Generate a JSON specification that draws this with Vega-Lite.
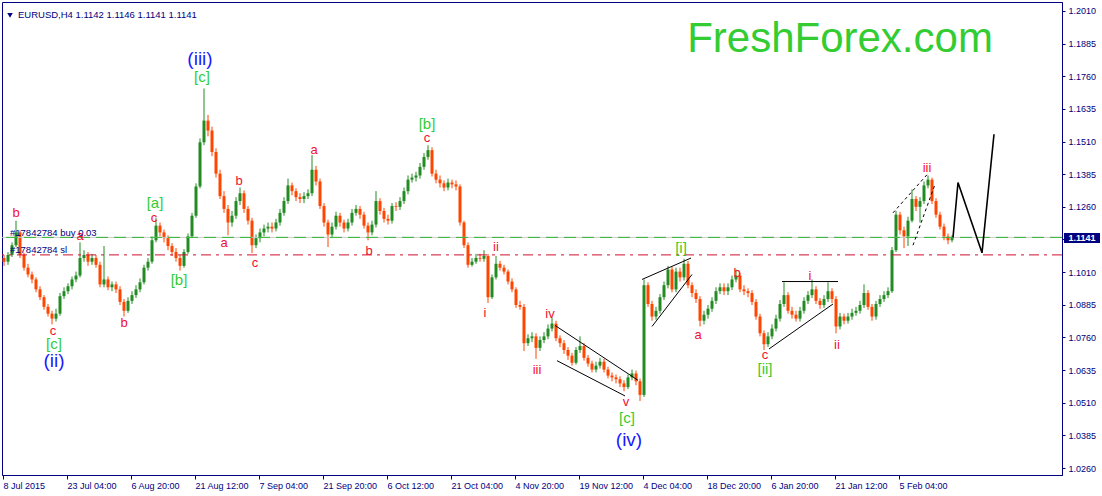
{
"$schema":"https://vega.github.io/schema/vega-lite/v6.json",
"width":1060,"height":473,"autosize":"none",
"padding":{"left":2,"top":2,"right":40,"bottom":21},
"background":"white",
"config":{"view":{"stroke":"#000080","strokeWidth":1},"text":{"font":"Liberation Sans"},"axis":{"labelFont":"Liberation Sans","labelOverlap":false,"labelFlush":false}},
"resolve":{"axis":{"x":"independent","y":"independent"}},
"datasets":{
"bars":[
{"x":4,"o":1.1064,"h":1.1076,"l":1.1034,"c":1.1050},
{"x":8,"o":1.1050,"h":1.1087,"l":1.1038,"c":1.1076},
{"x":12,"o":1.1076,"h":1.1124,"l":1.1068,"c":1.1113},
{"x":16,"o":1.1113,"h":1.1207,"l":1.1106,"c":1.1162},
{"x":20,"o":1.1162,"h":1.1170,"l":1.1064,"c":1.1076},
{"x":24,"o":1.1076,"h":1.1083,"l":1.1016,"c":1.1027},
{"x":28,"o":1.1027,"h":1.1042,"l":1.0990,"c":1.1001},
{"x":32,"o":1.1001,"h":1.1012,"l":1.0967,"c":1.0982},
{"x":36,"o":1.0982,"h":1.0990,"l":1.0933,"c":1.0944},
{"x":40,"o":1.0944,"h":1.0956,"l":1.0903,"c":1.0914},
{"x":44,"o":1.0914,"h":1.0922,"l":1.0866,"c":1.0877},
{"x":48,"o":1.0877,"h":1.0888,"l":1.0840,"c":1.0851},
{"x":52,"o":1.0851,"h":1.0862,"l":1.0810,"c":1.0832},
{"x":56,"o":1.0832,"h":1.0870,"l":1.0821,"c":1.0851},
{"x":60,"o":1.0851,"h":1.0930,"l":1.0843,"c":1.0918},
{"x":64,"o":1.0918,"h":1.0952,"l":1.0907,"c":1.0937},
{"x":68,"o":1.0937,"h":1.0967,"l":1.0926,"c":1.0956},
{"x":72,"o":1.0956,"h":1.0993,"l":1.0944,"c":1.0982},
{"x":76,"o":1.0982,"h":1.1012,"l":1.0971,"c":1.0997},
{"x":80,"o":1.0997,"h":1.1124,"l":1.0990,"c":1.1064},
{"x":84,"o":1.1064,"h":1.1094,"l":1.1050,"c":1.1076},
{"x":88,"o":1.1076,"h":1.1087,"l":1.1034,"c":1.1050},
{"x":92,"o":1.1050,"h":1.1080,"l":1.1038,"c":1.1064},
{"x":96,"o":1.1064,"h":1.1076,"l":1.1027,"c":1.1038},
{"x":100,"o":1.1038,"h":1.1050,"l":1.0952,"c":1.0963},
{"x":104,"o":1.0963,"h":1.1110,"l":1.0952,"c":1.0982},
{"x":108,"o":1.0982,"h":1.0993,"l":1.0941,"c":1.0952},
{"x":112,"o":1.0952,"h":1.0974,"l":1.0937,"c":1.0963},
{"x":116,"o":1.0963,"h":1.0974,"l":1.0930,"c":1.0944},
{"x":120,"o":1.0944,"h":1.0956,"l":1.0884,"c":1.0896},
{"x":124,"o":1.0896,"h":1.0907,"l":1.0840,"c":1.0862},
{"x":128,"o":1.0862,"h":1.0914,"l":1.0854,"c":1.0900},
{"x":132,"o":1.0900,"h":1.0937,"l":1.0888,"c":1.0922},
{"x":136,"o":1.0922,"h":1.0960,"l":1.0911,"c":1.0944},
{"x":140,"o":1.0944,"h":1.0986,"l":1.0933,"c":1.0971},
{"x":144,"o":1.0971,"h":1.1038,"l":1.0963,"c":1.1027},
{"x":148,"o":1.1027,"h":1.1064,"l":1.1016,"c":1.1050},
{"x":152,"o":1.1050,"h":1.1147,"l":1.1042,"c":1.1132},
{"x":156,"o":1.1132,"h":1.1218,"l":1.1124,"c":1.1188},
{"x":160,"o":1.1188,"h":1.1200,"l":1.1147,"c":1.1162},
{"x":164,"o":1.1162,"h":1.1173,"l":1.1124,"c":1.1140},
{"x":168,"o":1.1140,"h":1.1151,"l":1.1094,"c":1.1110},
{"x":172,"o":1.1110,"h":1.1121,"l":1.1072,"c":1.1087},
{"x":176,"o":1.1087,"h":1.1102,"l":1.1050,"c":1.1064},
{"x":180,"o":1.1064,"h":1.1076,"l":1.1016,"c":1.1034},
{"x":184,"o":1.1034,"h":1.1098,"l":1.1027,"c":1.1087},
{"x":188,"o":1.1087,"h":1.1158,"l":1.1080,"c":1.1147},
{"x":192,"o":1.1147,"h":1.1237,"l":1.1140,"c":1.1226},
{"x":196,"o":1.1226,"h":1.1350,"l":1.1218,"c":1.1338},
{"x":200,"o":1.1338,"h":1.1522,"l":1.1331,"c":1.1507},
{"x":204,"o":1.1507,"h":1.1713,"l":1.1496,"c":1.1590},
{"x":208,"o":1.1590,"h":1.1612,"l":1.1530,"c":1.1552},
{"x":212,"o":1.1552,"h":1.1567,"l":1.1454,"c":1.1470},
{"x":216,"o":1.1470,"h":1.1484,"l":1.1372,"c":1.1387},
{"x":220,"o":1.1387,"h":1.1402,"l":1.1290,"c":1.1301},
{"x":224,"o":1.1301,"h":1.1320,"l":1.1237,"c":1.1252},
{"x":228,"o":1.1252,"h":1.1267,"l":1.1151,"c":1.1200},
{"x":232,"o":1.1200,"h":1.1244,"l":1.1184,"c":1.1226},
{"x":236,"o":1.1226,"h":1.1297,"l":1.1214,"c":1.1282},
{"x":240,"o":1.1282,"h":1.1334,"l":1.1267,"c":1.1312},
{"x":244,"o":1.1312,"h":1.1323,"l":1.1237,"c":1.1252},
{"x":248,"o":1.1252,"h":1.1263,"l":1.1192,"c":1.1207},
{"x":252,"o":1.1207,"h":1.1218,"l":1.1083,"c":1.1113},
{"x":256,"o":1.1113,"h":1.1154,"l":1.1102,"c":1.1140},
{"x":260,"o":1.1140,"h":1.1177,"l":1.1124,"c":1.1162},
{"x":264,"o":1.1162,"h":1.1192,"l":1.1147,"c":1.1177},
{"x":268,"o":1.1177,"h":1.1200,"l":1.1162,"c":1.1184},
{"x":272,"o":1.1184,"h":1.1200,"l":1.1162,"c":1.1177},
{"x":276,"o":1.1177,"h":1.1214,"l":1.1166,"c":1.1200},
{"x":280,"o":1.1200,"h":1.1252,"l":1.1188,"c":1.1237},
{"x":284,"o":1.1237,"h":1.1297,"l":1.1226,"c":1.1282},
{"x":288,"o":1.1282,"h":1.1368,"l":1.1271,"c":1.1342},
{"x":292,"o":1.1342,"h":1.1353,"l":1.1304,"c":1.1320},
{"x":296,"o":1.1320,"h":1.1331,"l":1.1282,"c":1.1297},
{"x":300,"o":1.1297,"h":1.1312,"l":1.1274,"c":1.1290},
{"x":304,"o":1.1290,"h":1.1316,"l":1.1274,"c":1.1301},
{"x":308,"o":1.1301,"h":1.1327,"l":1.1290,"c":1.1312},
{"x":312,"o":1.1312,"h":1.1458,"l":1.1301,"c":1.1402},
{"x":316,"o":1.1402,"h":1.1417,"l":1.1342,"c":1.1357},
{"x":320,"o":1.1357,"h":1.1368,"l":1.1252,"c":1.1263},
{"x":324,"o":1.1263,"h":1.1274,"l":1.1184,"c":1.1200},
{"x":328,"o":1.1200,"h":1.1211,"l":1.1106,"c":1.1154},
{"x":332,"o":1.1154,"h":1.1200,"l":1.1140,"c":1.1184},
{"x":336,"o":1.1184,"h":1.1241,"l":1.1173,"c":1.1226},
{"x":340,"o":1.1226,"h":1.1237,"l":1.1184,"c":1.1200},
{"x":344,"o":1.1200,"h":1.1211,"l":1.1162,"c":1.1177},
{"x":348,"o":1.1177,"h":1.1214,"l":1.1166,"c":1.1200},
{"x":352,"o":1.1200,"h":1.1252,"l":1.1188,"c":1.1237},
{"x":356,"o":1.1237,"h":1.1267,"l":1.1226,"c":1.1252},
{"x":360,"o":1.1252,"h":1.1263,"l":1.1214,"c":1.1230},
{"x":364,"o":1.1230,"h":1.1241,"l":1.1177,"c":1.1188},
{"x":368,"o":1.1188,"h":1.1200,"l":1.1132,"c":1.1162},
{"x":372,"o":1.1162,"h":1.1207,"l":1.1151,"c":1.1192},
{"x":376,"o":1.1192,"h":1.1320,"l":1.1181,"c":1.1282},
{"x":380,"o":1.1282,"h":1.1293,"l":1.1230,"c":1.1244},
{"x":384,"o":1.1244,"h":1.1256,"l":1.1200,"c":1.1214},
{"x":388,"o":1.1214,"h":1.1230,"l":1.1192,"c":1.1207},
{"x":392,"o":1.1207,"h":1.1274,"l":1.1196,"c":1.1263},
{"x":396,"o":1.1263,"h":1.1278,"l":1.1244,"c":1.1260},
{"x":400,"o":1.1260,"h":1.1297,"l":1.1248,"c":1.1282},
{"x":404,"o":1.1282,"h":1.1334,"l":1.1271,"c":1.1320},
{"x":408,"o":1.1320,"h":1.1380,"l":1.1308,"c":1.1364},
{"x":412,"o":1.1364,"h":1.1387,"l":1.1353,"c":1.1372},
{"x":416,"o":1.1372,"h":1.1394,"l":1.1357,"c":1.1380},
{"x":420,"o":1.1380,"h":1.1428,"l":1.1368,"c":1.1413},
{"x":424,"o":1.1413,"h":1.1466,"l":1.1402,"c":1.1451},
{"x":428,"o":1.1451,"h":1.1496,"l":1.1440,"c":1.1477},
{"x":432,"o":1.1477,"h":1.1488,"l":1.1376,"c":1.1387},
{"x":436,"o":1.1387,"h":1.1402,"l":1.1350,"c":1.1364},
{"x":440,"o":1.1364,"h":1.1380,"l":1.1334,"c":1.1350},
{"x":444,"o":1.1350,"h":1.1361,"l":1.1320,"c":1.1334},
{"x":448,"o":1.1334,"h":1.1368,"l":1.1323,"c":1.1353},
{"x":452,"o":1.1353,"h":1.1364,"l":1.1331,"c":1.1346},
{"x":456,"o":1.1346,"h":1.1361,"l":1.1323,"c":1.1338},
{"x":460,"o":1.1338,"h":1.1346,"l":1.1188,"c":1.1200},
{"x":464,"o":1.1200,"h":1.1207,"l":1.1102,"c":1.1113},
{"x":468,"o":1.1113,"h":1.1124,"l":1.1027,"c":1.1038},
{"x":472,"o":1.1038,"h":1.1064,"l":1.1031,"c":1.1050},
{"x":476,"o":1.1050,"h":1.1080,"l":1.1042,"c":1.1064},
{"x":480,"o":1.1064,"h":1.1080,"l":1.1050,"c":1.1061},
{"x":484,"o":1.1061,"h":1.1094,"l":1.1050,"c":1.1072},
{"x":488,"o":1.1072,"h":1.1080,"l":1.0892,"c":1.0914},
{"x":492,"o":1.0914,"h":1.1001,"l":1.0907,"c":1.0990},
{"x":496,"o":1.0990,"h":1.1072,"l":1.0982,"c":1.1042},
{"x":500,"o":1.1042,"h":1.1053,"l":1.1016,"c":1.1027},
{"x":504,"o":1.1027,"h":1.1038,"l":1.1001,"c":1.1012},
{"x":508,"o":1.1012,"h":1.1020,"l":1.0963,"c":1.0974},
{"x":512,"o":1.0974,"h":1.0986,"l":1.0933,"c":1.0944},
{"x":516,"o":1.0944,"h":1.0952,"l":1.0873,"c":1.0884},
{"x":520,"o":1.0884,"h":1.0900,"l":1.0866,"c":1.0877},
{"x":524,"o":1.0877,"h":1.0888,"l":1.0708,"c":1.0738},
{"x":528,"o":1.0738,"h":1.0772,"l":1.0727,"c":1.0757},
{"x":532,"o":1.0757,"h":1.0780,"l":1.0742,"c":1.0764},
{"x":536,"o":1.0764,"h":1.0776,"l":1.0678,"c":1.0720},
{"x":540,"o":1.0720,"h":1.0764,"l":1.0708,"c":1.0750},
{"x":544,"o":1.0750,"h":1.0780,"l":1.0738,"c":1.0764},
{"x":548,"o":1.0764,"h":1.0810,"l":1.0753,"c":1.0794},
{"x":552,"o":1.0794,"h":1.0836,"l":1.0783,"c":1.0813},
{"x":556,"o":1.0813,"h":1.0824,"l":1.0746,"c":1.0757},
{"x":560,"o":1.0757,"h":1.0768,"l":1.0723,"c":1.0738},
{"x":564,"o":1.0738,"h":1.0750,"l":1.0697,"c":1.0712},
{"x":568,"o":1.0712,"h":1.0723,"l":1.0674,"c":1.0690},
{"x":572,"o":1.0690,"h":1.0701,"l":1.0652,"c":1.0663},
{"x":576,"o":1.0663,"h":1.0723,"l":1.0656,"c":1.0712},
{"x":580,"o":1.0712,"h":1.0764,"l":1.0701,"c":1.0727},
{"x":584,"o":1.0727,"h":1.0738,"l":1.0671,"c":1.0682},
{"x":588,"o":1.0682,"h":1.0693,"l":1.0648,"c":1.0660},
{"x":592,"o":1.0660,"h":1.0671,"l":1.0626,"c":1.0637},
{"x":596,"o":1.0637,"h":1.0667,"l":1.0626,"c":1.0652},
{"x":600,"o":1.0652,"h":1.0682,"l":1.0641,"c":1.0667},
{"x":604,"o":1.0667,"h":1.0678,"l":1.0626,"c":1.0637},
{"x":608,"o":1.0637,"h":1.0648,"l":1.0603,"c":1.0614},
{"x":612,"o":1.0614,"h":1.0626,"l":1.0592,"c":1.0607},
{"x":616,"o":1.0607,"h":1.0618,"l":1.0584,"c":1.0600},
{"x":620,"o":1.0600,"h":1.0611,"l":1.0570,"c":1.0584},
{"x":624,"o":1.0584,"h":1.0596,"l":1.0554,"c":1.0570},
{"x":628,"o":1.0570,"h":1.0618,"l":1.0562,"c":1.0607},
{"x":632,"o":1.0607,"h":1.0637,"l":1.0596,"c":1.0622},
{"x":636,"o":1.0622,"h":1.0633,"l":1.0577,"c":1.0592},
{"x":640,"o":1.0592,"h":1.0603,"l":1.0517,"c":1.0540},
{"x":644,"o":1.0540,"h":1.0982,"l":1.0532,"c":1.0960},
{"x":648,"o":1.0960,"h":1.0971,"l":1.0877,"c":1.0888},
{"x":652,"o":1.0888,"h":1.0900,"l":1.0824,"c":1.0840},
{"x":656,"o":1.0840,"h":1.0877,"l":1.0828,"c":1.0862},
{"x":660,"o":1.0862,"h":1.0926,"l":1.0851,"c":1.0914},
{"x":664,"o":1.0914,"h":1.0974,"l":1.0903,"c":1.0960},
{"x":668,"o":1.0960,"h":1.1034,"l":1.0948,"c":1.1020},
{"x":672,"o":1.1020,"h":1.1031,"l":1.0933,"c":1.0944},
{"x":676,"o":1.0944,"h":1.1027,"l":1.0933,"c":1.1012},
{"x":680,"o":1.1012,"h":1.1027,"l":1.0974,"c":1.0990},
{"x":684,"o":1.0990,"h":1.1061,"l":1.0978,"c":1.1042},
{"x":688,"o":1.1042,"h":1.1053,"l":1.0948,"c":1.0960},
{"x":692,"o":1.0960,"h":1.0971,"l":1.0914,"c":1.0930},
{"x":696,"o":1.0930,"h":1.0944,"l":1.0892,"c":1.0907},
{"x":700,"o":1.0907,"h":1.0918,"l":1.0802,"c":1.0824},
{"x":704,"o":1.0824,"h":1.0862,"l":1.0810,"c":1.0847},
{"x":708,"o":1.0847,"h":1.0884,"l":1.0832,"c":1.0870},
{"x":712,"o":1.0870,"h":1.0914,"l":1.0858,"c":1.0900},
{"x":716,"o":1.0900,"h":1.0952,"l":1.0888,"c":1.0937},
{"x":720,"o":1.0937,"h":1.0967,"l":1.0926,"c":1.0952},
{"x":724,"o":1.0952,"h":1.0967,"l":1.0922,"c":1.0937},
{"x":728,"o":1.0937,"h":1.0967,"l":1.0922,"c":1.0952},
{"x":732,"o":1.0952,"h":1.0997,"l":1.0941,"c":1.0982},
{"x":736,"o":1.0982,"h":1.1020,"l":1.0971,"c":1.0997},
{"x":740,"o":1.0997,"h":1.1008,"l":1.0933,"c":1.0944},
{"x":744,"o":1.0944,"h":1.0960,"l":1.0922,"c":1.0937},
{"x":748,"o":1.0937,"h":1.0948,"l":1.0914,"c":1.0930},
{"x":752,"o":1.0930,"h":1.0941,"l":1.0884,"c":1.0896},
{"x":756,"o":1.0896,"h":1.0907,"l":1.0828,"c":1.0840},
{"x":760,"o":1.0840,"h":1.0851,"l":1.0764,"c":1.0776},
{"x":764,"o":1.0776,"h":1.0787,"l":1.0712,"c":1.0734},
{"x":768,"o":1.0734,"h":1.0780,"l":1.0723,"c":1.0764},
{"x":772,"o":1.0764,"h":1.0810,"l":1.0753,"c":1.0794},
{"x":776,"o":1.0794,"h":1.0847,"l":1.0783,"c":1.0832},
{"x":780,"o":1.0832,"h":1.0903,"l":1.0821,"c":1.0888},
{"x":784,"o":1.0888,"h":1.0971,"l":1.0877,"c":1.0922},
{"x":788,"o":1.0922,"h":1.0933,"l":1.0851,"c":1.0862},
{"x":792,"o":1.0862,"h":1.0877,"l":1.0832,"c":1.0847},
{"x":796,"o":1.0847,"h":1.0862,"l":1.0821,"c":1.0832},
{"x":800,"o":1.0832,"h":1.0877,"l":1.0821,"c":1.0862},
{"x":804,"o":1.0862,"h":1.0914,"l":1.0851,"c":1.0900},
{"x":808,"o":1.0900,"h":1.0937,"l":1.0888,"c":1.0922},
{"x":812,"o":1.0922,"h":1.0982,"l":1.0911,"c":1.0944},
{"x":816,"o":1.0944,"h":1.0956,"l":1.0888,"c":1.0900},
{"x":820,"o":1.0900,"h":1.0911,"l":1.0870,"c":1.0884},
{"x":824,"o":1.0884,"h":1.0922,"l":1.0873,"c":1.0907},
{"x":828,"o":1.0907,"h":1.0971,"l":1.0896,"c":1.0937},
{"x":832,"o":1.0937,"h":1.0948,"l":1.0892,"c":1.0907},
{"x":836,"o":1.0907,"h":1.0918,"l":1.0776,"c":1.0802},
{"x":840,"o":1.0802,"h":1.0854,"l":1.0791,"c":1.0840},
{"x":844,"o":1.0840,"h":1.0851,"l":1.0810,"c":1.0824},
{"x":848,"o":1.0824,"h":1.0854,"l":1.0813,"c":1.0840},
{"x":852,"o":1.0840,"h":1.0870,"l":1.0828,"c":1.0854},
{"x":856,"o":1.0854,"h":1.0877,"l":1.0843,"c":1.0862},
{"x":860,"o":1.0862,"h":1.0900,"l":1.0851,"c":1.0884},
{"x":864,"o":1.0884,"h":1.0963,"l":1.0873,"c":1.0930},
{"x":868,"o":1.0930,"h":1.0941,"l":1.0866,"c":1.0877},
{"x":872,"o":1.0877,"h":1.0888,"l":1.0824,"c":1.0840},
{"x":876,"o":1.0840,"h":1.0900,"l":1.0828,"c":1.0888},
{"x":880,"o":1.0888,"h":1.0922,"l":1.0877,"c":1.0907},
{"x":884,"o":1.0907,"h":1.0937,"l":1.0896,"c":1.0922},
{"x":888,"o":1.0922,"h":1.0952,"l":1.0911,"c":1.0937},
{"x":892,"o":1.0937,"h":1.1106,"l":1.0930,"c":1.1094},
{"x":896,"o":1.1094,"h":1.1244,"l":1.1087,"c":1.1230},
{"x":900,"o":1.1230,"h":1.1241,"l":1.1154,"c":1.1170},
{"x":904,"o":1.1170,"h":1.1184,"l":1.1102,"c":1.1147},
{"x":908,"o":1.1147,"h":1.1222,"l":1.1110,"c":1.1207},
{"x":912,"o":1.1207,"h":1.1327,"l":1.1200,"c":1.1290},
{"x":916,"o":1.1290,"h":1.1301,"l":1.1244,"c":1.1260},
{"x":920,"o":1.1260,"h":1.1297,"l":1.1200,"c":1.1282},
{"x":924,"o":1.1282,"h":1.1357,"l":1.1271,"c":1.1342},
{"x":928,"o":1.1342,"h":1.1380,"l":1.1331,"c":1.1364},
{"x":932,"o":1.1364,"h":1.1372,"l":1.1271,"c":1.1282},
{"x":936,"o":1.1282,"h":1.1293,"l":1.1218,"c":1.1230},
{"x":940,"o":1.1230,"h":1.1241,"l":1.1173,"c":1.1184},
{"x":944,"o":1.1184,"h":1.1196,"l":1.1132,"c":1.1147},
{"x":948,"o":1.1147,"h":1.1158,"l":1.1117,"c":1.1132},
{"x":952,"o":1.1132,"h":1.1151,"l":1.1124,"c":1.1141}
],
"lines":[
{"g":"a","k":"solid","s":0,"x":555,"p":1.0806},{"g":"a","k":"solid","s":1,"x":638,"p":1.0596},
{"g":"b","k":"solid","s":0,"x":557,"p":1.0671},{"g":"b","k":"solid","s":1,"x":625,"p":1.0536},
{"g":"c","k":"solid","s":0,"x":642,"p":1.0982},{"g":"c","k":"solid","s":1,"x":691,"p":1.1064},
{"g":"d","k":"solid","s":0,"x":652,"p":1.0802},{"g":"d","k":"solid","s":1,"x":692,"p":1.1001},
{"g":"e","k":"solid","s":0,"x":782,"p":1.0974},{"g":"e","k":"solid","s":1,"x":838,"p":1.0974},
{"g":"f","k":"solid","s":0,"x":769,"p":1.0716},{"g":"f","k":"solid","s":1,"x":833,"p":1.0888},
{"g":"g","k":"dash","s":0,"x":893,"p":1.1237},{"g":"g","k":"dash","s":1,"x":927,"p":1.1383},
{"g":"h","k":"dash","s":0,"x":913,"p":1.1113},{"g":"h","k":"dash","s":1,"x":935,"p":1.1346},
{"g":"w","k":"wave","s":0,"x":953,"p":1.1143},{"g":"w","k":"wave","s":1,"x":958,"p":1.1353},{"g":"w","k":"wave","s":2,"x":982,"p":1.1084},{"g":"w","k":"wave","s":3,"x":994,"p":1.1538}
],
"levels":[{"p":1.1143,"k":"buy"},{"p":1.1076,"k":"sl"}],
"labels":[
{"x":16,"p":1.1237,"t":"b","k":"minor"},
{"x":80,"p":1.1147,"t":"a","k":"minor"},
{"x":53,"p":1.0786,"t":"c","k":"minor"},
{"x":54,"p":1.0734,"t":"[c]","k":"inter"},
{"x":54,"p":1.0670,"t":"(ii)","k":"primary"},
{"x":124,"p":1.0817,"t":"b","k":"minor"},
{"x":154,"p":1.1218,"t":"c","k":"minor"},
{"x":155,"p":1.1274,"t":"[a]","k":"inter"},
{"x":179,"p":1.0978,"t":"[b]","k":"inter"},
{"x":200,"p":1.1827,"t":"(iii)","k":"primary"},
{"x":202,"p":1.1756,"t":"[c]","k":"inter"},
{"x":239,"p":1.1357,"t":"b","k":"minor"},
{"x":224,"p":1.1121,"t":"a","k":"minor"},
{"x":255,"p":1.1046,"t":"c","k":"minor"},
{"x":314,"p":1.1477,"t":"a","k":"minor"},
{"x":369,"p":1.1091,"t":"b","k":"minor"},
{"x":427,"p":1.1578,"t":"[b]","k":"inter"},
{"x":427,"p":1.1522,"t":"c","k":"minor"},
{"x":496,"p":1.1106,"t":"ii","k":"minor"},
{"x":485,"p":1.0854,"t":"i","k":"minor"},
{"x":537,"p":1.0637,"t":"iii","k":"minor"},
{"x":550,"p":1.0851,"t":"iv","k":"minor"},
{"x":626,"p":1.0513,"t":"v","k":"minor"},
{"x":627,"p":1.0453,"t":"[c]","k":"inter"},
{"x":629,"p":1.0367,"t":"(iv)","k":"primary"},
{"x":681,"p":1.1102,"t":"[i]","k":"inter"},
{"x":698,"p":1.0768,"t":"a","k":"minor"},
{"x":737,"p":1.1008,"t":"b","k":"minor"},
{"x":765,"p":1.0692,"t":"c","k":"minor"},
{"x":765,"p":1.0640,"t":"[ii]","k":"inter"},
{"x":810,"p":1.0997,"t":"i","k":"minor"},
{"x":837,"p":1.0731,"t":"ii","k":"minor"},
{"x":927,"p":1.1410,"t":"iii","k":"minor"}
],
"notes":[
{"x":18,"p":1.1993,"t":"EURUSD,H4  1.1142 1.1146 1.1141 1.1141","k":"header"},
{"x":10,"p":1.1161,"t":"#17842784 buy 0.03","k":"order"},
{"x":10,"p":1.1093,"t":"#17842784 sl","k":"order"},
{"x":840,"p":1.1852,"t":"FreshForex.com","k":"brand"}
],
"marker":[{"x":10,"p":1.1993}],
"price":[{"p":1.1141,"t":"1.1141"}]
},
"layer":[
{"data":{"name":"bars"},"mark":{"type":"rule","strokeWidth":1},
 "encoding":{
  "x":{"field":"x","type":"quantitative","scale":{"domain":[2,1062],"nice":false,"zero":false},
   "axis":{"orient":"bottom","title":null,"grid":false,"values":[3,67,131,195,259,323,387,451,515,579,643,707,771,835,899],
    "labelExpr":"['8 Jul 2015','23 Jul 04:00','6 Aug 20:00','21 Aug 12:00','7 Sep 04:00','21 Sep 20:00','6 Oct 12:00','21 Oct 04:00','4 Nov 20:00','19 Nov 12:00','4 Dec 04:00','18 Dec 20:00','6 Jan 20:00','21 Jan 12:00','5 Feb 04:00'][indexof([3,67,131,195,259,323,387,451,515,579,643,707,771,835,899], datum.value)]",
    "labelAlign":"left","labelFlush":false,"labelOverlap":false,"labelColor":"#000080","labelFontSize":9,"labelPadding":2,
    "tickColor":"#000080","tickSize":4,"domainColor":"#000080"}},
  "y":{"field":"l","type":"quantitative","scale":{"domain":[1.02525,1.2025],"nice":false,"zero":false},
   "axis":{"orient":"right","title":null,"grid":false,"values":[1.026,1.0385,1.051,1.0635,1.076,1.0885,1.101,1.1135,1.126,1.1385,1.151,1.1635,1.176,1.1885,1.201],
    "format":".4f","labelFlush":false,"labelOverlap":false,"labelColor":"#000080","labelFontSize":9,"labelPadding":3,
    "tickColor":"#000080","tickSize":3,"domainColor":"#000080"}},
  "y2":{"field":"h"},
  "color":{"condition":{"test":"datum.c > datum.o","value":"#228b22"},"value":"#ff4500"}
 }},
{"data":{"name":"bars"},"mark":{"type":"rule","strokeWidth":3},
 "encoding":{
  "x":{"field":"x","type":"quantitative","axis":null},
  "y":{"field":"o","type":"quantitative","axis":null},
  "y2":{"field":"c"},
  "color":{"condition":{"test":"datum.c > datum.o","value":"#228b22"},"value":"#ff4500"}
 }},
{"data":{"name":"levels"},"transform":[{"filter":"datum.k == 'buy'"}],"mark":{"type":"rule","strokeWidth":1,"color":"#c8c8c8"},
 "encoding":{"y":{"field":"p","type":"quantitative","axis":null}}},
{"data":{"name":"levels"},"transform":[{"filter":"datum.k == 'buy'"}],"mark":{"type":"rule","strokeWidth":1,"color":"#32b432","strokeDash":[12,6]},
 "encoding":{"y":{"field":"p","type":"quantitative","axis":null}}},
{"data":{"name":"levels"},"transform":[{"filter":"datum.k == 'sl'"}],"mark":{"type":"rule","strokeWidth":1,"color":"#d01030","strokeDash":[10,5,3,5]},
 "encoding":{"y":{"field":"p","type":"quantitative","axis":null}}},
{"data":{"name":"lines"},"transform":[{"filter":"datum.k == 'solid'"}],"mark":{"type":"line","strokeWidth":1,"color":"black"},
 "encoding":{"x":{"field":"x","type":"quantitative","axis":null},"y":{"field":"p","type":"quantitative","axis":null},"detail":{"field":"g"},"order":{"field":"s"}}},
{"data":{"name":"lines"},"transform":[{"filter":"datum.k == 'dash'"}],"mark":{"type":"line","strokeWidth":1,"color":"black","strokeDash":[3,3]},
 "encoding":{"x":{"field":"x","type":"quantitative","axis":null},"y":{"field":"p","type":"quantitative","axis":null},"detail":{"field":"g"},"order":{"field":"s"}}},
{"data":{"name":"lines"},"transform":[{"filter":"datum.k == 'wave'"}],"mark":{"type":"line","strokeWidth":1.6,"color":"black"},
 "encoding":{"x":{"field":"x","type":"quantitative","axis":null},"y":{"field":"p","type":"quantitative","axis":null},"detail":{"field":"g"},"order":{"field":"s"}}},
{"data":{"name":"labels"},"transform":[{"filter":"datum.k == 'minor'"}],"mark":{"type":"text","fontSize":13,"color":"#f01030","baseline":"middle","align":"center","font":"Liberation Sans"},
 "encoding":{"x":{"field":"x","type":"quantitative","axis":null},"y":{"field":"p","type":"quantitative","axis":null},"text":{"field":"t"}}},
{"data":{"name":"labels"},"transform":[{"filter":"datum.k == 'inter'"}],"mark":{"type":"text","fontSize":15,"color":"#33cc33","baseline":"middle","align":"center","font":"Liberation Sans"},
 "encoding":{"x":{"field":"x","type":"quantitative","axis":null},"y":{"field":"p","type":"quantitative","axis":null},"text":{"field":"t"}}},
{"data":{"name":"labels"},"transform":[{"filter":"datum.k == 'primary'"}],"mark":{"type":"text","fontSize":19,"color":"#1a1aff","baseline":"middle","align":"center","font":"Liberation Sans"},
 "encoding":{"x":{"field":"x","type":"quantitative","axis":null},"y":{"field":"p","type":"quantitative","axis":null},"text":{"field":"t"}}},
{"data":{"name":"notes"},"transform":[{"filter":"datum.k == 'header' || datum.k == 'order'"}],"mark":{"type":"text","fontSize":9.5,"color":"#000080","baseline":"middle","align":"left","font":"Liberation Sans"},
 "encoding":{"x":{"field":"x","type":"quantitative","axis":null},"y":{"field":"p","type":"quantitative","axis":null},"text":{"field":"t"}}},
{"data":{"name":"notes"},"transform":[{"filter":"datum.k == 'brand'"}],"mark":{"type":"text","fontSize":42,"color":"#33cc33","baseline":"alphabetic","align":"center","font":"Liberation Sans"},
 "encoding":{"x":{"field":"x","type":"quantitative","axis":null},"y":{"field":"p","type":"quantitative","axis":null},"text":{"field":"t"}}},
{"data":{"name":"marker"},"mark":{"type":"point","shape":"triangle-down","filled":true,"size":30,"color":"#000080","opacity":1},
 "encoding":{"x":{"field":"x","type":"quantitative","axis":null},"y":{"field":"p","type":"quantitative","axis":null}}},
{"data":{"name":"price"},"mark":{"type":"bar","height":10,"color":"#000080","clip":false},
 "encoding":{"x":{"datum":1064,"type":"quantitative","axis":null},"x2":{"datum":1100},"y":{"field":"p","type":"quantitative","axis":null}}},
{"data":{"name":"price"},"mark":{"type":"text","fontSize":9,"color":"white","baseline":"middle","align":"center","font":"Liberation Sans","fontWeight":"bold"},
 "encoding":{"x":{"datum":1082,"type":"quantitative","axis":null},"y":{"field":"p","type":"quantitative","axis":null},"text":{"field":"t"}}}
]
}
